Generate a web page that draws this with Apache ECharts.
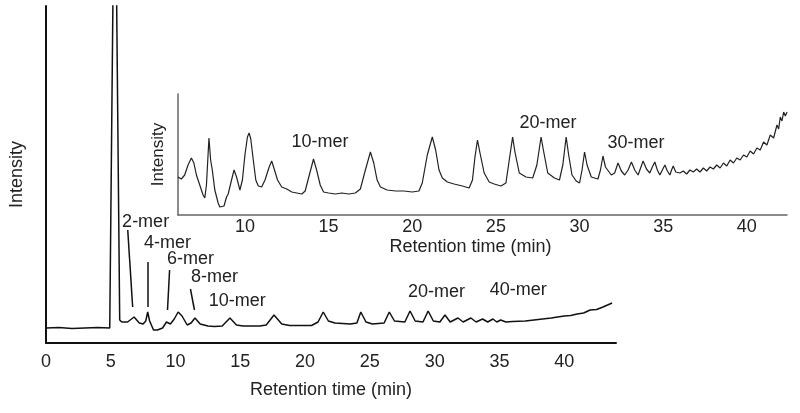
<!DOCTYPE html>
<html>
<head>
<meta charset="utf-8">
<script src="https://cdn.jsdelivr.net/npm/echarts@6/dist/echarts.min.js"></script>
<style>
  html, body { margin: 0; padding: 0; background: #fff; }
  #chart { width: 800px; height: 413px; }
</style>
</head>
<body>
<div id="chart"></div>
<script>
// main chromatogram, [time (min), intensity]
const mainTrace = [
  [0, 15], [1, 15.5], [2, 14.5], [3, 15], [4, 15.5], [4.92, 15], [5.31, 533], [5.69, 23],
  [5.85, 21], [6.0, 20], [6.3, 21], [6.8, 26], [7.2, 20], [7.5, 19], [7.7, 22], [7.85, 31],
  [8.0, 22], [8.3, 13], [8.6, 13], [9.0, 15], [9.3, 21], [9.6, 19], [9.9, 24], [10.2, 31],
  [10.5, 27], [10.9, 18], [11.2, 20], [11.5, 25], [11.9, 19], [12.5, 17], [13.0, 16.5],
  [13.6, 17], [14.2, 25], [14.7, 18], [15.2, 17], [16.5, 17], [17.0, 18], [17.6, 28],
  [18.2, 19], [18.8, 17.5], [20.5, 17.5], [21.0, 21], [21.4, 31], [21.8, 22], [22.3, 20],
  [23.5, 19], [24.0, 20], [24.3, 31], [24.7, 21], [25.2, 19], [26.1, 20], [26.5, 31],
  [26.9, 22], [27.7, 21], [28.1, 32], [28.5, 22], [29.1, 21], [29.5, 32], [29.9, 22],
  [30.4, 21], [30.8, 28], [31.2, 21], [31.8, 25], [32.2, 21], [32.8, 25], [33.2, 21],
  [33.7, 24], [34.1, 21], [34.5, 24], [34.8, 21], [35.1, 23], [35.5, 21], [36, 21.5],
  [37, 22], [38, 23.5], [39, 25], [40, 27], [40.5, 27.5], [41, 29], [41.5, 30], [42, 33],
  [42.5, 33.5], [43, 36], [43.7, 40]
];

// inset (zoomed) chromatogram
const insetTrace = [
  [6.0, 38], [6.2, 36], [6.4, 40], [6.6, 50], [6.8, 57], [6.95, 52], [7.1, 40], [7.3, 30],
  [7.5, 20], [7.6, 17], [7.7, 30], [7.85, 77], [7.95, 55], [8.05, 45], [8.2, 25], [8.4, 12],
  [8.5, 8], [8.6, 10], [8.75, 9], [8.9, 18], [9.0, 21], [9.2, 35], [9.35, 45], [9.5, 38],
  [9.7, 25], [9.85, 35], [10.0, 60], [10.15, 78], [10.25, 82], [10.35, 76], [10.5, 55],
  [10.65, 35], [10.8, 29], [11.0, 28], [11.2, 35], [11.45, 48], [11.6, 54], [11.75, 46],
  [11.95, 35], [12.2, 28], [12.5, 26], [12.8, 23], [13.1, 22], [13.4, 21], [13.6, 24],
  [13.85, 40], [14.1, 56], [14.3, 44], [14.5, 30], [14.7, 23], [15.0, 22], [15.4, 21],
  [15.8, 22], [16.2, 21], [16.6, 22], [16.9, 26], [17.2, 45], [17.5, 63], [17.7, 52],
  [17.9, 35], [18.1, 28], [18.5, 25], [19.0, 24], [19.5, 24], [20.0, 23], [20.4, 24],
  [20.6, 32], [20.9, 60], [21.2, 78], [21.4, 65], [21.6, 45], [21.8, 37], [22.1, 33],
  [22.5, 31], [23.0, 29], [23.4, 27], [23.6, 35], [23.75, 58], [23.9, 75], [24.05, 62],
  [24.3, 42], [24.6, 33], [24.9, 31], [25.3, 29], [25.6, 32], [25.8, 55], [26.0, 78],
  [26.15, 62], [26.4, 42], [26.8, 38], [27.2, 37], [27.45, 50], [27.7, 78], [27.85, 64],
  [28.1, 42], [28.5, 37], [28.8, 35], [29.0, 50], [29.2, 78], [29.35, 60], [29.55, 40],
  [29.8, 34], [30.0, 32], [30.15, 45], [30.3, 63], [30.45, 50], [30.7, 38], [31.1, 36],
  [31.25, 45], [31.4, 59], [31.55, 48], [31.9, 40], [32.1, 42], [32.3, 52], [32.5, 44],
  [32.7, 40], [32.9, 45], [33.1, 53], [33.3, 45], [33.5, 40], [33.65, 47], [33.8, 54],
  [34.0, 46], [34.2, 42], [34.35, 48], [34.5, 53], [34.65, 45], [34.8, 40], [34.95, 45],
  [35.1, 50], [35.25, 44], [35.4, 40], [35.5, 45], [35.6, 49], [35.75, 43], [36.0, 42],
  [36.2, 44], [36.4, 41], [36.6, 45], [36.8, 43], [37.0, 46], [37.2, 43], [37.4, 47],
  [37.6, 44], [37.8, 48], [38.0, 46], [38.2, 50], [38.4, 47], [38.6, 52], [38.8, 49],
  [39.0, 55], [39.2, 52], [39.4, 57], [39.6, 55], [39.8, 60], [40.0, 58], [40.2, 64],
  [40.4, 61], [40.6, 67], [40.8, 65], [41.0, 73], [41.2, 70], [41.4, 80], [41.6, 77],
  [41.8, 90], [41.9, 86], [42.0, 98], [42.1, 94], [42.2, 103], [42.3, 99], [42.4, 103]
];

const mainTicks = [0, 5, 10, 15, 20, 25, 30, 35, 40];
const insetTicks = [10, 15, 20, 25, 30, 35, 40];

// peak labels: [name, time, intensity]
const mainLabels = [
  ['2-mer', 7.69, 121], ['4-mer', 9.38, 100], ['6-mer', 11.15, 84], ['8-mer', 13.0, 66],
  ['10-mer', 14.77, 42], ['20-mer', 30.15, 51], ['40-mer', 36.46, 53]
];
const insetLabels = [
  ['10-mer', 14.49, 73], ['20-mer', 28.12, 92], ['30-mer', 33.38, 72]
];
// leader lines from label to peak
const leaders = [
  [[6.31, 113], [6.69, 36]],
  [[7.85, 81], [7.85, 36]],
  [[9.54, 73], [9.38, 33]],
  [[11.15, 54], [11.46, 33]]
];

const FONT = 'Liberation Sans, Arial, sans-serif';
const TXT = '#222';

const chart = echarts.init(document.getElementById('chart'));

const toMarks = (list) => list.map((d) => ({ name: d[0], coord: [d[1], d[2]] }));

const option = {
  animation: false,
  textStyle: { fontFamily: FONT },
  grid: [
    { left: 44, top: 6, width: 572, height: 337 },
    { left: 178, top: 94, width: 609, height: 121 }
  ],
  xAxis: [
    {
      gridIndex: 0,
      type: 'value',
      min: 0,
      max: 44,
      name: 'Retention time (min)',
      nameLocation: 'middle',
      nameGap: 38,
      nameTextStyle: { fontSize: 18, color: TXT, fontFamily: FONT },
      axisLine: { lineStyle: { color: '#111', width: 2 } },
      axisTick: { show: false },
      splitLine: { show: false },
      axisLabel: { customValues: mainTicks, fontSize: 18, color: TXT, margin: 10, fontFamily: FONT }
    },
    {
      gridIndex: 1,
      type: 'value',
      min: 6,
      max: 42.4,
      name: 'Retention time (min)',
      nameLocation: 'middle',
      nameGap: 23,
      nameTextStyle: { fontSize: 18, color: TXT, fontFamily: FONT, padding: [0, 24, 0, 0] },
      axisLine: { lineStyle: { color: '#666', width: 1.5 } },
      axisTick: { show: false },
      splitLine: { show: false },
      axisLabel: { customValues: insetTicks, fontSize: 18, color: TXT, margin: 3, fontFamily: FONT }
    }
  ],
  yAxis: [
    {
      gridIndex: 0,
      type: 'value',
      min: 0,
      max: 337,
      name: 'Intensity',
      nameLocation: 'middle',
      nameGap: 20,
      nameTextStyle: { fontSize: 18, color: TXT, fontFamily: FONT },
      axisLine: { show: true, lineStyle: { color: '#111', width: 2 } },
      axisTick: { show: false },
      axisLabel: { show: false },
      splitLine: { show: false }
    },
    {
      gridIndex: 1,
      type: 'value',
      min: 0,
      max: 121,
      name: 'Intensity',
      nameLocation: 'middle',
      nameGap: 11,
      nameTextStyle: { fontSize: 17, color: TXT, fontFamily: FONT },
      axisLine: { show: true, lineStyle: { color: '#666', width: 1.5 } },
      axisTick: { show: false },
      axisLabel: { show: false },
      splitLine: { show: false }
    }
  ],
  series: [
    {
      name: 'main',
      type: 'line',
      xAxisIndex: 0,
      yAxisIndex: 0,
      data: mainTrace,
      showSymbol: false,
      clip: true,
      lineStyle: { color: '#111', width: 1.5 },
      markLine: {
        silent: true,
        symbol: 'none',
        label: { show: false },
        lineStyle: { color: '#111', width: 1.5, type: 'solid' },
        data: leaders.map((l) => [{ coord: l[0] }, { coord: l[1] }])
      },
      markPoint: {
        silent: true,
        symbol: 'circle',
        symbolSize: 0,
        label: { show: true, position: 'inside', formatter: '{b}', fontSize: 18, color: TXT, fontFamily: FONT },
        data: toMarks(mainLabels)
      }
    },
    {
      name: 'inset',
      type: 'line',
      xAxisIndex: 1,
      yAxisIndex: 1,
      data: insetTrace,
      showSymbol: false,
      clip: true,
      lineStyle: { color: '#222', width: 1.2 },
      markPoint: {
        silent: true,
        symbol: 'circle',
        symbolSize: 0,
        label: { show: true, position: 'inside', formatter: '{b}', fontSize: 18, color: TXT, fontFamily: FONT },
        data: toMarks(insetLabels)
      }
    }
  ]
};

chart.setOption(option);
</script>
</body>
</html>
